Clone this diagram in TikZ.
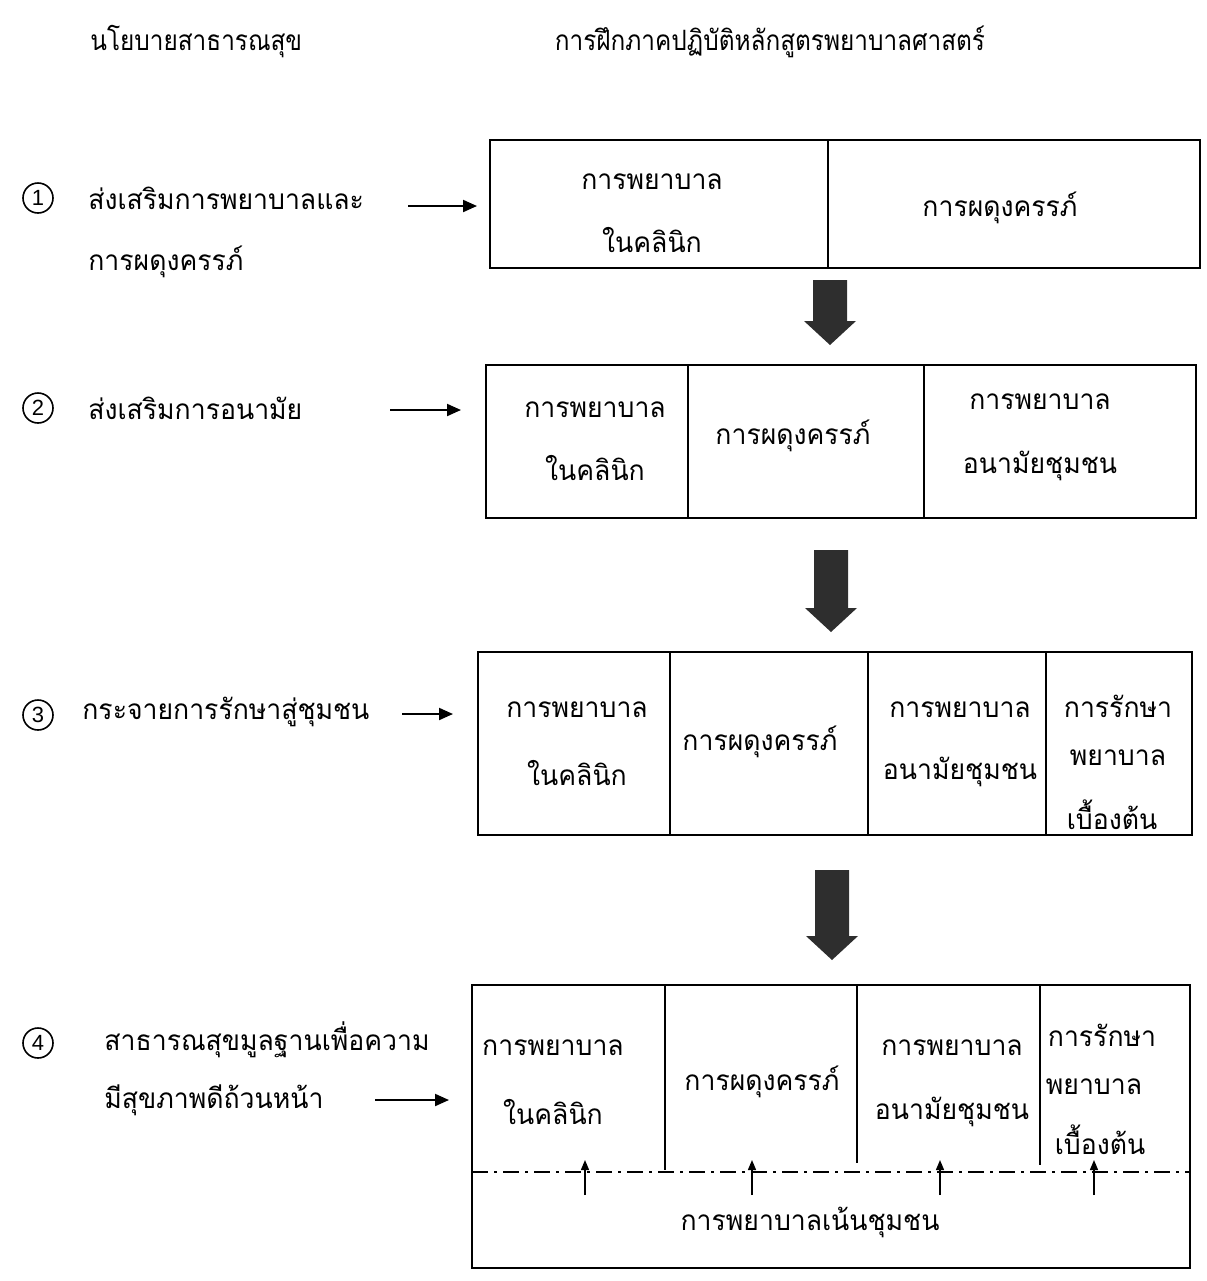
\documentclass[tikz,border=0pt]{standalone}
\usepackage{fontspec}
\newfontfamily\thai[Script=Thai,FakeStretch=0.95]{Loma}
\newfontfamily\thaihead[Script=Thai,FakeStretch=0.87]{Loma}
\setsansfont{Liberation Sans}
\usetikzlibrary{arrows.meta,fit}
\begin{document}
\begin{tikzpicture}[x=0.5pt,y=-0.5pt,
  txt/.style={font=\thai\fontsize{14}{17}\selectfont, inner sep=0pt},
  headtxt/.style={font=\thaihead\fontsize{14}{17}\selectfont, inner sep=0pt},
  cell/.style={draw, line width=1pt, inner sep=0pt},
  num/.style={circle, draw, line width=0.8pt, minimum size=15pt, inner sep=0pt, font=\sffamily\fontsize{11}{12}\selectfont},
  harr/.style={line width=1pt, -{Triangle[length=7pt,width=6pt]}},
  uarr/.style={line width=0.7pt, -{Triangle[length=5pt,width=4pt]}},
  blk/.style={fill=black!82},
  dd/.style={line width=0.8pt, dash pattern=on 8pt off 3pt on 1.5pt off 3pt}]
\useasboundingbox (0,0) rectangle (1206,1281);
\newcommand\blkarrow[3]{\fill[blk] ({#1-17},{#2}) -- ({#1+17},{#2}) -- ({#1+17},{#3-24}) -- ({#1+26},{#3-24}) -- ({#1},{#3}) -- ({#1-26},{#3-24}) -- ({#1-17},{#3-24}) -- cycle;}

% headers
\node[headtxt, anchor=west] (h1) at (90,42) {นโยบายสาธารณสุข};
\node[headtxt] (h2) at (770,42) {การฝึกภาคปฏิบัติหลักสูตรพยาบาลศาสตร์};

% row 1
\node[num] (n1) at (38,198) {1};
\node[txt, anchor=west] (l1a) at (88,198) {ส่งเสริมการพยาบาลและ};
\node[txt, anchor=west] (l1b) at (88,262) {การผดุงครรภ์};
\node[cell, fit={(490,140) (828,268)}] (c11) {};
\node[cell, fit={(828,140) (1200,268)}] (c12) {};
\node[txt] at (652,182) {การพยาบาล};
\node[txt] at (652,240) {ในคลินิก};
\node[txt] at (1000,208) {การผดุงครรภ์};
\coordinate (a1) at (408,206);
\draw[harr, shorten >=6pt] (a1) -- (c11.west |- a1);

\blkarrow{830}{280}{345}

% row 2
\node[num] (n2) at (38,408) {2};
\node[txt, anchor=west] (l2) at (88,408) {ส่งเสริมการอนามัย};
\node[cell, fit={(486,365) (688,518)}] (c21) {};
\node[cell, fit={(688,365) (924,518)}] (c22) {};
\node[cell, fit={(924,365) (1196,518)}] (c23) {};
\node[txt] at (595,410) {การพยาบาล};
\node[txt] at (595,468) {ในคลินิก};
\node[txt] at (793,436) {การผดุงครรภ์};
\node[txt] at (1040,402) {การพยาบาล};
\node[txt] at (1040,466) {อนามัยชุมชน};
\coordinate (a2) at (390,410);
\draw[harr, shorten >=12pt] (a2) -- (c21.west |- a2);

\blkarrow{831}{550}{632}

% row 3
\node[num] (n3) at (38,715) {3};
\node[txt, anchor=west] (l3) at (82,712) {กระจายการรักษาสู่ชุมชน};
\node[cell, fit={(478,652) (670,835)}] (c31) {};
\node[cell, fit={(670,652) (868,835)}] (c32) {};
\node[cell, fit={(868,652) (1046,835)}] (c33) {};
\node[cell, fit={(1046,652) (1192,835)}] (c34) {};
\node[txt] at (577,710) {การพยาบาล};
\node[txt] at (577,773) {ในคลินิก};
\node[txt] at (760,742) {การผดุงครรภ์};
\node[txt] at (960,710) {การพยาบาล};
\node[txt] at (960,772) {อนามัยชุมชน};
\node[txt] at (1118,706) {การรักษา};
\node[txt] at (1118,758) {พยาบาล};
\node[txt] at (1112,815) {เบื้องต้น};
\coordinate (a3) at (402,714);
\draw[harr, shorten >=12pt] (a3) -- (c31.west |- a3);

\blkarrow{832}{870}{960}

% row 4
\node[num] (n4) at (38,1043) {4};
\node[txt, anchor=west] (l4a) at (104,1040) {สาธารณสุขมูลฐานเพื่อความ};
\node[txt, anchor=west] (l4b) at (104,1100) {มีสุขภาพดีถ้วนหน้า};
\node[cell, fit={(472,985) (1190,1268)}] (b4) {};
\coordinate (dl) at (472,1172);
\coordinate (dr) at (1190,1172);
\draw[line width=1pt] (665,985) -- (665,1170);
\draw[line width=1pt] (857,985) -- (857,1163);
\draw[line width=1pt] (1040,985) -- (1040,1165);
\draw[dd] (dl) -- (dr);
\foreach \x in {585,752,940,1094} \draw[uarr] (\x,1195) -- (\x,1160);
\node[txt] at (553,1048) {การพยาบาล};
\node[txt] at (553,1112) {ในคลินิก};
\node[txt] at (762,1082) {การผดุงครรภ์};
\node[txt] at (952,1048) {การพยาบาล};
\node[txt] at (952,1112) {อนามัยชุมชน};
\node[txt] at (1102,1035) {การรักษา};
\node[txt] at (1094,1087) {พยาบาล};
\node[txt] at (1100,1140) {เบื้องต้น};
\node[txt] at (810,1222) {การพยาบาลเน้นชุมชน};
\coordinate (a4) at (375,1100);
\draw[harr, shorten >=11pt] (a4) -- (b4.west |- a4);
\end{tikzpicture}
\end{document}
